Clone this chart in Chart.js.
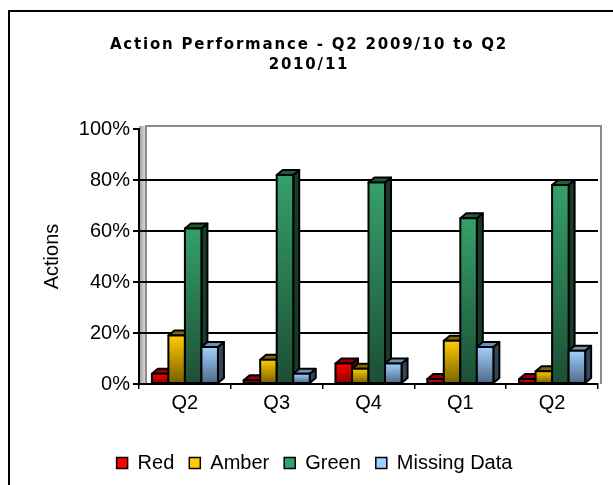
<!DOCTYPE html>
<html>
<head>
<meta charset="utf-8">
<script src="https://cdn.jsdelivr.net/npm/chart.js@4/dist/chart.umd.min.js"></script>
<style>
  html, body { margin: 0; padding: 0; background: #fff; overflow: hidden; }
  #frame { position: absolute; left: 8px; top: 10px; width: 700px; height: 600px; border: 2px solid #000; }
  #wrap { position: absolute; left: 0; top: 0; width: 613px; height: 485px; }
</style>
</head>
<body>
<div id="frame"></div>
<div id="wrap"><canvas id="actionChart" width="613" height="485"></canvas></div>
<script>
// data (percent of actions)
const categories = ['Q2', 'Q3', 'Q4', 'Q1', 'Q2'];
const seriesNames = ['Red', 'Amber', 'Green', 'Missing Data'];
const redValues = [4, 1.5, 8, 2, 2];
const amberValues = [19, 9.5, 6, 17, 5];
const greenValues = [61, 82, 79, 65, 78];
const missingValues = [14.5, 4, 8, 14.5, 13];
const titleLines = ['Action Performance - Q2 2009/10 to Q2', '2010/11'];

// face colours: front top, front bottom, top face, side face
const faces = [
  ['#ff0000', '#8c0000', '#990000', '#5c0000'],
  ['#ffcc00', '#7a6000', '#806600', '#5a4800'],
  ['#35a06a', '#1c4f35', '#1f5c3d', '#153d29'],
  ['#9fd0ff', '#4f6a88', '#6f8fb5', '#34465a']
];
const DX = 6, DY = 5;

const bar3d = {
  id: 'bar3d',
  beforeDraw(chart) {
    const { ctx, chartArea: a } = chart;
    ctx.save();
    // left side wall
    const g = ctx.createLinearGradient(a.left, 0, a.left + 7, 0);
    g.addColorStop(0, '#9a9a9a');
    g.addColorStop(1, '#e0e0e0');
    ctx.fillStyle = g;
    ctx.fillRect(a.left, a.top - 3, 7, a.bottom - a.top + 3);
    // back wall edges
    ctx.strokeStyle = '#8a8a8a';
    ctx.lineWidth = 2;
    ctx.beginPath();
    ctx.moveTo(a.left + 7, a.bottom);
    ctx.lineTo(a.left + 7, a.top - 3);
    ctx.lineTo(a.right + 3, a.top - 3);
    ctx.lineTo(a.right + 3, a.bottom);
    ctx.stroke();
    ctx.restore();
  },
  afterDatasetsDraw(chart) {
    const ctx = chart.ctx;
    ctx.save();
    ctx.lineWidth = 2;
    ctx.strokeStyle = '#000';
    ctx.lineJoin = 'round';
    for (let i = 0; i < categories.length; i++) {
      chart.data.datasets.forEach((ds, d) => {
        const el = chart.getDatasetMeta(d).data[i];
        const l = el.x - el.width / 2, r = el.x + el.width / 2;
        const t = el.y, b = el.base;
        const f = faces[d];
        // side
        ctx.beginPath();
        ctx.moveTo(r, b); ctx.lineTo(r + DX, b - DY); ctx.lineTo(r + DX, t - DY); ctx.lineTo(r, t);
        ctx.closePath();
        ctx.fillStyle = f[3]; ctx.fill(); ctx.stroke();
        // top
        ctx.beginPath();
        ctx.moveTo(l, t); ctx.lineTo(l + DX, t - DY); ctx.lineTo(r + DX, t - DY); ctx.lineTo(r, t);
        ctx.closePath();
        ctx.fillStyle = f[2]; ctx.fill(); ctx.stroke();
        // front
        const g = ctx.createLinearGradient(0, t, 0, b);
        g.addColorStop(0, f[0]);
        g.addColorStop(1, f[1]);
        ctx.fillStyle = g;
        ctx.fillRect(l, t, r - l, b - t);
        ctx.strokeRect(l, t, r - l, b - t);
      });
    }
    ctx.restore();
  },
  afterDraw(chart) {
    const ctx = chart.ctx;
    ctx.save();
    ctx.fillStyle = '#000';
    ctx.font = 'bold 15px "DejaVu Sans"';
    ctx.letterSpacing = '1.8px';
    ctx.textAlign = 'center';
    ctx.textBaseline = 'middle';
    ctx.fillText(titleLines[0], 309, 45);
    ctx.fillText(titleLines[1], 309, 65);
    ctx.restore();
  }
};

const ctx = document.getElementById('actionChart').getContext('2d');
const chart = new Chart(ctx, {
  type: 'bar',
  data: {
    labels: categories,
    datasets: [redValues, amberValues, greenValues, missingValues].map((vals, k) => ({
      label: seriesNames[k],
      data: vals,
      backgroundColor: 'rgba(0,0,0,0)',
      borderWidth: 0
    }))
  },
  options: {
    responsive: false,
    animation: false,
    layout: { padding: { top: 129, right: 0, bottom: 2, left: 16 } },
    datasets: { bar: { categoryPercentage: 0.72, barPercentage: 1.0 } },
    plugins: {
      title: { display: false },
      tooltip: { enabled: false },
      legend: {
        position: 'bottom',
        labels: {
          color: '#000',
          font: { family: '"Liberation Sans", Arial', size: 20 },
          boxWidth: 11,
          boxHeight: 11,
          padding: 15,
          generateLabels: (c) => seriesNames.map((name, k) => ({
            text: name,
            fillStyle: faces[k][0],
            strokeStyle: '#000',
            lineWidth: 1.5,
            datasetIndex: k
          }))
        }
      }
    },
    scales: {
      x: {
        afterFit: (s) => { s.height = 54; },
        grid: { drawOnChartArea: false, color: '#000', tickColor: '#000', tickLength: 5, lineWidth: 1.5 },
        border: { color: '#000', width: 2 },
        ticks: { color: '#000', padding: 2, font: { family: '"Liberation Sans", Arial', size: 20 } }
      },
      y: {
        min: 0,
        max: 100,
        afterFit: (s) => { s.width = 123; },
        title: {
          display: true,
          text: 'Actions',
          color: '#000',
          padding: { top: 24, bottom: 0 },
          font: { family: '"Liberation Sans", Arial', size: 20 }
        },
        grid: {
          color: (c) => (c.tick && c.tick.value === 100 ? 'rgba(0,0,0,0)' : '#000'),
          tickColor: '#000',
          lineWidth: 2,
          tickLength: 6
        },
        border: { color: '#000', width: 2 },
        ticks: {
          stepSize: 20,
          color: '#000',
          padding: 3,
          font: { family: '"Liberation Sans", Arial', size: 20 },
          callback: (v) => v + '%'
        }
      },
      // empty right-hand spacer so the plot ends where the picture's does
      spacer: {
        position: 'right',
        display: true,
        afterFit: (s) => { s.width = 15; },
        grid: { display: false },
        border: { display: false },
        ticks: { display: false }
      }
    }
  },
  plugins: [bar3d]
});
</script>
</body>
</html>
